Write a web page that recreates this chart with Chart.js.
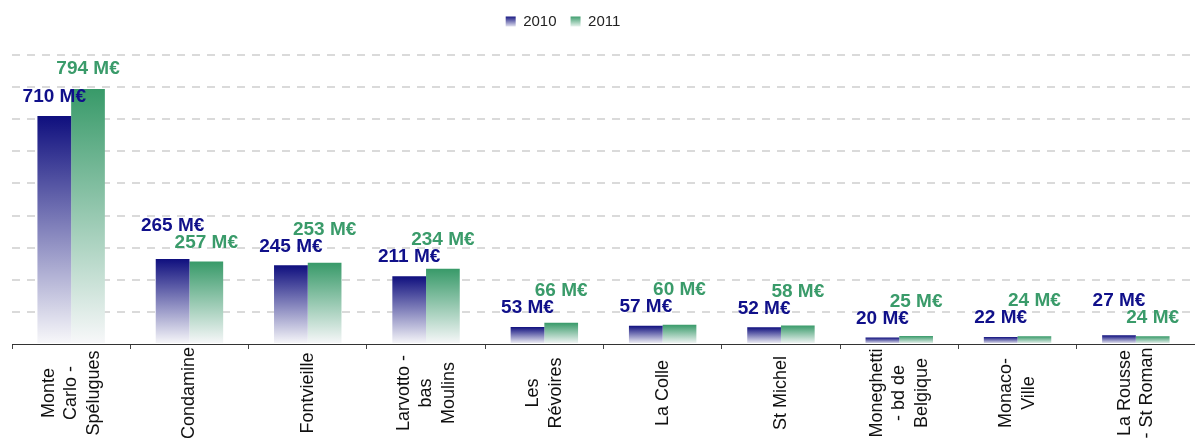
<!DOCTYPE html>
<html>
<head>
<meta charset="utf-8">
<script src="https://cdn.jsdelivr.net/npm/chart.js@4/dist/chart.umd.min.js"></script>
<style>
  html, body { margin: 0; padding: 0; background: #fff; overflow: hidden; }
  #wrap { width: 1195px; height: 448px; }
</style>
</head>
<body>
<div id="wrap"><canvas id="grafica" width="1195" height="448"></canvas></div>
<script>
// Quartiers (libellés sur plusieurs lignes)
const quartiers = [
  ["Monte", "Carlo -", "Spélugues"],
  ["Condamine"],
  ["Fontvieille"],
  ["Larvotto -", "bas", "Moulins"],
  ["Les", "Révoires"],
  ["La Colle"],
  ["St Michel"],
  ["Moneghetti", "- bd de", "Belgique"],
  ["Monaco-", "Ville"],
  ["La Rousse", "- St Roman"]
];
const series = ["2010", "2011"];
const valeurs2010 = [710, 265, 245, 211, 53, 57, 52, 20, 22, 27];
const valeurs2011 = [794, 257, 253, 234, 66, 60, 58, 25, 24, 24];
const graduations = [0, 100, 200, 300, 400, 500, 600, 700, 800, 900];
const unite = " M€";

const FONT = '"Liberation Sans", Arial, sans-serif';
const couleursHaut = ['#0f0f7e', '#389a69'];
const couleursTexte = ['#10108a', '#3a9b6a'];
const couleurBas = '#f8f8fa';

// Dégradé vertical par barre (foncé en haut, blanc en bas)
function degrade(couleur) {
  return function (ctx) {
    const chart = ctx.chart;
    const y = chart.scales.y;
    if (!chart.chartArea || !y) return couleur;
    const v = ctx.dataset.data[ctx.dataIndex];
    const haut = y.getPixelForValue(v);
    const bas = y.getPixelForValue(0);
    if (!(bas > haut)) return couleur;
    const g = chart.ctx.createLinearGradient(0, haut, 0, bas);
    g.addColorStop(0, couleur);
    g.addColorStop(1, couleurBas);
    return g;
  };
}

// Étiquettes de valeur au-dessus des barres
const etiquettesValeurs = {
  id: 'etiquettesValeurs',
  afterDatasetsDraw(chart) {
    const ctx = chart.ctx;
    const metas = [chart.getDatasetMeta(0), chart.getDatasetMeta(1)];
    const donnees = [valeurs2010, valeurs2011];
    ctx.save();
    ctx.font = 'bold 19px ' + FONT;
    ctx.textAlign = 'center';
    ctx.textBaseline = 'middle';
    for (let i = 0; i < quartiers.length; i++) {
      const bas = donnees[0][i] <= donnees[1][i] ? 0 : 1;
      const haut = 1 - bas;
      const bBas = metas[bas].data[i];
      const bHaut = metas[haut].data[i];
      const yBas = bBas.y - 19;
      const yHaut = Math.min(bHaut.y - 20, yBas - 17);
      ctx.fillStyle = couleursTexte[bas];
      ctx.fillText(donnees[bas][i] + unite, bBas.x, yBas);
      ctx.fillStyle = couleursTexte[haut];
      ctx.fillText(donnees[haut][i] + unite, bHaut.x, yHaut);
    }
    ctx.restore();
  }
};

// Libellés des quartiers, verticaux et centrés
const libellesX = {
  id: 'libellesX',
  afterDraw(chart) {
    const ctx = chart.ctx;
    const x = chart.scales.x;
    ctx.save();
    ctx.font = '18px ' + FONT;
    ctx.fillStyle = '#111';
    ctx.textAlign = 'center';
    ctx.textBaseline = 'middle';
    quartiers.forEach((lignes, i) => {
      const cx = x.getPixelForValue(i);
      const n = lignes.length;
      lignes.forEach((ligne, j) => {
        ctx.save();
        ctx.translate(cx + (j - (n - 1) / 2) * 22.5, 393);
        ctx.rotate(-Math.PI / 2);
        ctx.fillText(ligne, 0, 0);
        ctx.restore();
      });
    });
    ctx.restore();
  }
};

// La légende est un peu décalée vers la gauche dans l'original
const decalageLegende = {
  id: 'decalageLegende',
  afterLayout(chart) {
    const l = chart.legend;
    if (!l) return;
    l.left -= 45;
    l.right -= 45;
  }
};

new Chart(document.getElementById('grafica'), {
  type: 'bar',
  data: {
    labels: quartiers,
    datasets: [
      { label: series[0], data: valeurs2010, backgroundColor: degrade(couleursHaut[0]), borderWidth: 0 },
      { label: series[1], data: valeurs2011, backgroundColor: degrade(couleursHaut[1]), borderWidth: 0 }
    ]
  },
  options: {
    responsive: false,
    animation: false,
    events: [],
    datasets: { bar: { barPercentage: 1, categoryPercentage: 0.57 } },
    layout: { padding: { top: 0, left: 12, right: -9, bottom: 99 } },
    plugins: {
      tooltip: { enabled: false },
      legend: {
        position: 'top',
        labels: {
          boxWidth: 10,
          boxHeight: 10,
          padding: 14,
          color: '#222',
          font: { family: FONT, size: 15 },
          generateLabels(chart) {
            return series.map((s, i) => {
              const g = chart.ctx.createLinearGradient(0, 16, 0, 28);
              g.addColorStop(0, couleursHaut[i]);
              g.addColorStop(1, '#ffffff');
              return {
                text: s, fillStyle: g, strokeStyle: 'rgba(0,0,0,0)', lineWidth: 0,
                hidden: false, datasetIndex: i, fontColor: '#222'
              };
            });
          }
        }
      }
    },
    scales: {
      x: {
        grid: { offset: true, drawOnChartArea: false, drawTicks: true, tickLength: 5, color: '#444' },
        border: { color: '#333', width: 1 },
        ticks: { display: false }
      },
      y: {
        min: 0,
        max: 950,
        afterBuildTicks(scale) {
          scale.ticks = graduations.map(v => ({ value: v }));
        },
        ticks: { display: false },
        border: { display: false, dash: [8, 7] },
        grid: {
          drawTicks: false,
          lineWidth: 2,
          color: c => (c.tick && c.tick.value > 0) ? '#dadada' : 'rgba(0,0,0,0)'
        }
      }
    }
  },
  plugins: [etiquettesValeurs, libellesX, decalageLegende]
});
</script>
</body>
</html>
